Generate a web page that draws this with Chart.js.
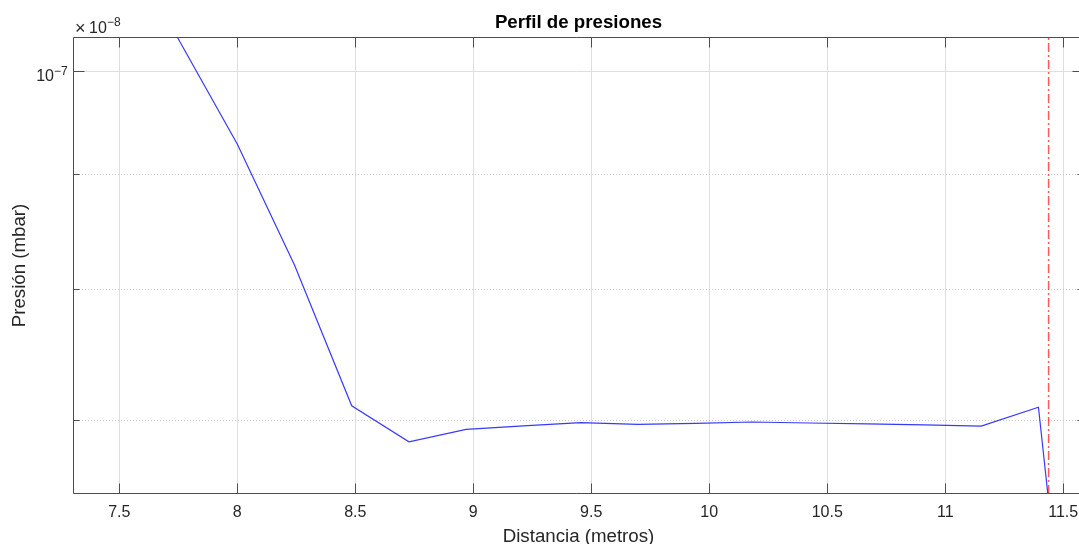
<!DOCTYPE html>
<html><head><meta charset="utf-8">
<script src="https://cdn.jsdelivr.net/npm/chart.js@4/dist/chart.umd.min.js"></script>
<style>
html,body{margin:0;padding:0;background:#fff;overflow:hidden}
canvas{display:block}
</style>
</head><body>
<canvas id="c" width="1079" height="544"></canvas>
<script>
// ---- data ----
const distancia = [7.515, 7.7575, 8.0, 8.2425, 8.485, 8.7275, 8.97, 9.2125, 9.455, 9.6975, 9.94, 10.1825, 10.425, 10.6675, 10.91, 11.1525, 11.395, 11.4375];
const presion = [1.15e-7, 1.030e-7, 9.281e-8, 8.201e-8, 7.102e-8, 6.845e-8, 6.933e-8, 6.957e-8, 6.980e-8, 6.968e-8, 6.975e-8, 6.985e-8, 6.978e-8, 6.972e-8, 6.964e-8, 6.956e-8, 7.091e-8, 6.45e-8];
const limiteX = [11.438, 11.438];
const limiteY = [5e-8, 2e-7];
const xTicks = [7.5, 8, 8.5, 9, 9.5, 10, 10.5, 11, 11.5];
const yMajorTicks = [1e-7];
const yMinorTicks = [7e-8, 8e-8, 9e-8];
const xRange = [7.304, 11.588];
const yRange = [6.496e-8, 1.0343e-7];

const FONT = "'Liberation Sans', Arial, Helvetica, sans-serif";
const TXT = '#262626';
const AXIS = '#4d4d4d';
const RIGHT_OVERFLOW = 5; // the axes box runs past the right edge of the picture

const extendRight = {
  id: 'extendRight',
  afterLayout(chart) {
    const x = chart.scales.x;
    chart.chartArea.right += RIGHT_OVERFLOW;
    chart.chartArea.width += RIGHT_OVERFLOW;
    x.right += RIGHT_OVERFLOW;
    x.width += RIGHT_OVERFLOW;
    x.configure();
    if (chart.titleBlock) {
      chart.titleBlock.right += RIGHT_OVERFLOW;
      chart.titleBlock.width += RIGHT_OVERFLOW;
    }
  }
};

function rightTicks(ctx, y, R) {
  ctx.beginPath();
  yMajorTicks.forEach(v => {
    const p = Math.round(y.getPixelForValue(v)) + 0.5;
    ctx.moveTo(R, p); ctx.lineTo(R - 11, p);
  });
  yMinorTicks.forEach(v => {
    const p = Math.round(y.getPixelForValue(v)) + 0.5;
    ctx.moveTo(R, p); ctx.lineTo(R - 6, p);
  });
  ctx.stroke();
}

const matlabAxes = {
  id: 'matlabAxes',
  beforeDatasetsDraw(chart) {
    const {ctx, chartArea: a, scales: {y}} = chart;
    ctx.save();
    ctx.lineWidth = 1;
    yMajorTicks.forEach(v => {
      const p = Math.round(y.getPixelForValue(v)) + 0.5;
      ctx.strokeStyle = '#dfdfdf'; ctx.setLineDash([]);
      ctx.beginPath(); ctx.moveTo(a.left, p); ctx.lineTo(a.right, p); ctx.stroke();
    });
    yMinorTicks.forEach(v => {
      const p = Math.round(y.getPixelForValue(v)) + 0.5;
      ctx.strokeStyle = '#c8c8c8'; ctx.setLineDash([1, 2]);
      ctx.beginPath(); ctx.moveTo(a.left, p); ctx.lineTo(a.right, p); ctx.stroke();
    });
    ctx.restore();
  },
  afterDatasetsDraw(chart) {
    const {ctx, chartArea: a, scales: {x, y}} = chart;
    ctx.save();
    ctx.setLineDash([]);
    ctx.strokeStyle = AXIS;
    ctx.lineWidth = 1;
    const L = a.left + 0.5, R = a.right - 0.5, T = a.top - 0.5, B = a.bottom + 0.5;
    ctx.beginPath();
    ctx.moveTo(R, T); ctx.lineTo(L, T); ctx.lineTo(L, B); ctx.lineTo(R, B);
    ctx.stroke();
    ctx.beginPath();
    xTicks.forEach(v => {
      const p = Math.round(x.getPixelForValue(v)) + 0.5;
      ctx.moveTo(p, B); ctx.lineTo(p, B - 10);
      ctx.moveTo(p, T); ctx.lineTo(p, T + 10);
    });
    yMajorTicks.forEach(v => {
      const p = Math.round(y.getPixelForValue(v)) + 0.5;
      ctx.moveTo(L, p); ctx.lineTo(L + 11, p);
    });
    yMinorTicks.forEach(v => {
      const p = Math.round(y.getPixelForValue(v)) + 0.5;
      ctx.moveTo(L, p); ctx.lineTo(L + 6, p);
    });
    ctx.stroke();

    ctx.fillStyle = TXT;
    ctx.textBaseline = 'alphabetic';
    yMajorTicks.forEach(v => {
      const p = y.getPixelForValue(v);
      const exp = Math.round(Math.log10(v));
      ctx.font = `16px ${FONT}`;
      ctx.textAlign = 'right';
      ctx.fillText('10', a.left - 19, p + 10);
      ctx.font = `12px ${FONT}`;
      ctx.textAlign = 'left';
      ctx.fillText('\u2212' + Math.abs(exp), a.left - 19, p + 4);
    });
    ctx.textAlign = 'left';
    ctx.font = `18px ${FONT}`;
    ctx.fillText('\u00d7', a.left + 2, a.top - 4);
    ctx.font = `16px ${FONT}`;
    ctx.fillText('10', a.left + 16, a.top - 5);
    ctx.font = `12px ${FONT}`;
    ctx.fillText('\u22128', a.left + 34, a.top - 12);
    ctx.restore();
  },
  afterDraw(chart) {
    // keep the picture's right edge clean (the box edge lies beyond it), then the inward ticks
    const {ctx, chartArea: a, scales: {y}} = chart;
    ctx.save();
    ctx.fillStyle = '#ffffff';
    ctx.fillRect(chart.width - 2, a.top + 1, 2, a.bottom - a.top - 1);
    ctx.strokeStyle = AXIS;
    ctx.lineWidth = 1;
    ctx.setLineDash([]);
    rightTicks(ctx, y, a.right - 0.5);
    ctx.restore();
  }
};

new Chart(document.getElementById('c'), {
  type: 'line',
  data: {
    datasets: [
      {
        label: 'Presión',
        data: distancia.map((d, i) => ({x: d, y: presion[i]})),
        borderColor: 'rgba(0,0,255,0.78)',
        borderWidth: 1.2,
        pointRadius: 0,
        tension: 0,
        fill: false
      },
      {
        label: 'Límite',
        data: limiteX.map((d, i) => ({x: d, y: limiteY[i]})),
        borderColor: 'rgba(255,0,0,0.65)',
        borderWidth: 1.5,
        borderDash: [9, 3, 2, 3],
        pointRadius: 0,
        fill: false
      }
    ]
  },
  options: {
    responsive: false,
    animation: false,
    devicePixelRatio: 1,
    layout: {padding: {left: 0, right: 0, top: 0, bottom: 0}, autoPadding: false},
    plugins: {
      legend: {display: false},
      tooltip: {enabled: false},
      title: {
        display: true,
        text: 'Perfil de presiones',
        fullSize: false,
        color: '#000',
        font: {family: FONT, size: 18.7, weight: 'bold'},
        padding: {top: 11.8, bottom: 3.76}
      }
    },
    scales: {
      x: {
        type: 'linear',
        min: xRange[0], max: xRange[1],
        afterBuildTicks: s => { s.ticks = xTicks.map(v => ({value: v})); },
        afterFit: s => { s.height = 51; s.paddingLeft = 0; s.paddingRight = 0; },
        grid: {color: '#dfdfdf', drawTicks: false, lineWidth: 1},
        border: {display: false},
        ticks: {font: {family: FONT, size: 16}, color: TXT, padding: 10, maxRotation: 0, autoSkip: false, callback: v => String(v)},
        title: {display: true, text: 'Distancia (metros)', color: TXT, font: {family: FONT, size: 18.7}, padding: {top: 0, bottom: -4}}
      },
      y: {
        type: 'logarithmic',
        min: yRange[0], max: yRange[1],
        afterBuildTicks: s => { s.ticks = [...yMinorTicks, ...yMajorTicks].map(v => ({value: v})); },
        afterFit: s => { s.width = 73; s.paddingTop = 0; s.paddingBottom = 0; },
        grid: {display: false},
        border: {display: false},
        ticks: {display: false},
        title: {display: true, text: 'Presión (mbar)', color: TXT, font: {family: FONT, size: 18.7}, padding: {top: 8.8, bottom: 0}}
      }
    }
  },
  plugins: [extendRight, matlabAxes]
});
</script>
</body></html>
